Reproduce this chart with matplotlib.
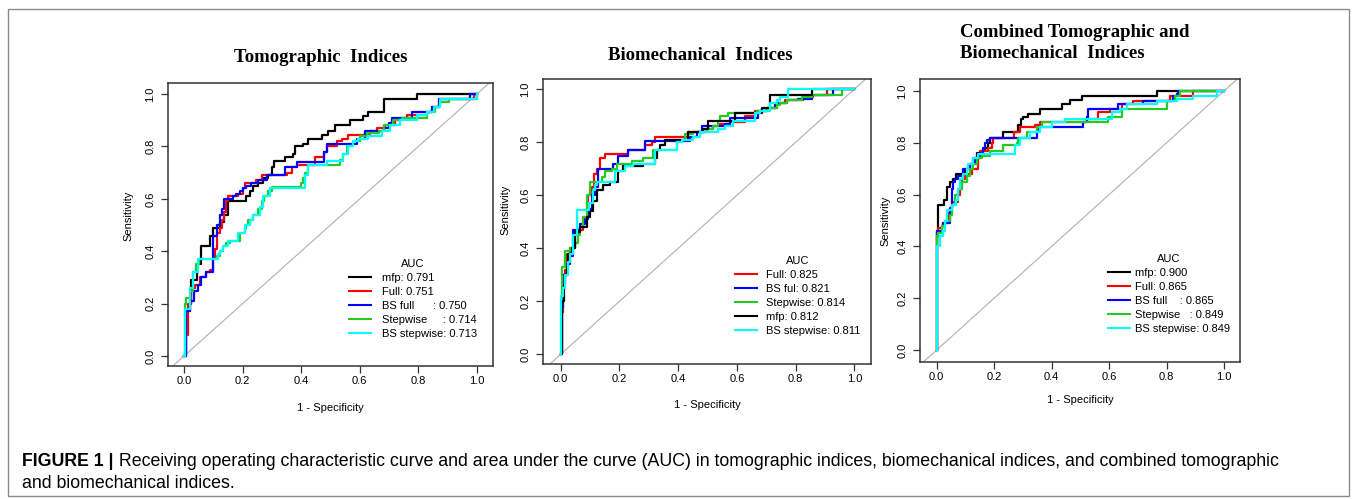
import matplotlib
matplotlib.use("Agg")
import matplotlib.pyplot as plt
from matplotlib.patches import Rectangle
from matplotlib.lines import Line2D

# ---------------- data ----------------
panel_titles = ["Tomographic  Indices", "Biomechanical  Indices",
                "Combined Tomographic and\nBiomechanical  Indices"]
x_label = "1 - Specificity"
y_label = "Sensitivity"
tick_values = [0.0, 0.2, 0.4, 0.6, 0.8, 1.0]
tick_labels = ["0.0", "0.2", "0.4", "0.6", "0.8", "1.0"]

# Panel 1: Tomographic indices
tomo_labels = ["mfp: 0.791", "Full: 0.751", "BS full      : 0.750",
               "Stepwise     : 0.714", "BS stepwise: 0.713"]
tomo_mfp_fpr = [0, 0.006, 0.019, 0.025, 0.044, 0.059, 0.088, 0.099, 0.122, 0.137, 0.151, 0.213, 0.225, 0.236,
                0.253, 0.270, 0.287, 0.299, 0.307, 0.344, 0.373, 0.379, 0.407, 0.424, 0.470, 0.493, 0.515, 0.567,
                0.612, 0.629, 0.681, 0.795, 1.0]
tomo_mfp_tpr = [0, 0.17, 0.20, 0.29, 0.35, 0.42, 0.46, 0.49, 0.51, 0.54, 0.59, 0.61, 0.63, 0.65,
                0.66, 0.68, 0.69, 0.72, 0.745, 0.76, 0.77, 0.80, 0.81, 0.83, 0.845, 0.86, 0.88, 0.90,
                0.915, 0.93, 0.98, 1.0, 1.0]
tomo_full_fpr = [0, 0.006, 0.014, 0.025, 0.036, 0.054, 0.074, 0.088, 0.099, 0.105, 0.114, 0.122, 0.128, 0.137,
                 0.143, 0.151, 0.185, 0.202, 0.208, 0.247, 0.265, 0.350, 0.367, 0.384, 0.447, 0.478, 0.487, 0.521,
                 0.538, 0.561, 0.635, 0.658, 0.686, 0.721, 0.738, 0.761, 0.829, 0.846, 0.869, 0.989, 1.0]
tomo_full_tpr = [0, 0.08, 0.20, 0.26, 0.27, 0.30, 0.32, 0.33, 0.37, 0.41, 0.47, 0.49, 0.52, 0.55,
                 0.59, 0.61, 0.62, 0.64, 0.66, 0.67, 0.69, 0.70, 0.72, 0.73, 0.76, 0.78, 0.80, 0.82,
                 0.83, 0.845, 0.86, 0.87, 0.88, 0.90, 0.91, 0.92, 0.93, 0.95, 0.98, 1.0, 1.0]
tomo_bsfull_fpr = [0, 0.006, 0.008, 0.019, 0.033, 0.048, 0.059, 0.076, 0.099, 0.114, 0.122, 0.128, 0.136, 0.168,
                   0.179, 0.190, 0.202, 0.213, 0.230, 0.253, 0.282, 0.344, 0.384, 0.478, 0.487, 0.590, 0.618,
                   0.681, 0.698, 0.709, 0.778, 0.846, 0.869, 0.977, 1.0]
tomo_bsfull_tpr = [0, 0.08, 0.17, 0.21, 0.25, 0.27, 0.30, 0.32, 0.46, 0.50, 0.54, 0.56, 0.60, 0.61,
                   0.62, 0.63, 0.64, 0.65, 0.66, 0.67, 0.69, 0.72, 0.74, 0.78, 0.81, 0.83, 0.86,
                   0.87, 0.89, 0.91, 0.93, 0.95, 0.98, 1.0, 1.0]
tomo_step_fpr = [0, 0.002, 0.008, 0.019, 0.031, 0.042, 0.051, 0.111, 0.122, 0.133, 0.145, 0.156, 0.190, 0.208,
                 0.213, 0.219, 0.236, 0.253, 0.265, 0.273, 0.287, 0.299, 0.401, 0.407, 0.413, 0.424, 0.532, 0.544,
                 0.555, 0.578, 0.601, 0.624, 0.664, 0.681, 0.715, 0.743, 0.829, 0.857, 0.875, 0.903, 1.0]
tomo_step_tpr = [0, 0.20, 0.22, 0.25, 0.32, 0.35, 0.37, 0.38, 0.40, 0.42, 0.43, 0.44, 0.47, 0.49,
                 0.50, 0.52, 0.54, 0.56, 0.59, 0.61, 0.63, 0.645, 0.66, 0.68, 0.70, 0.73, 0.75, 0.77,
                 0.80, 0.82, 0.84, 0.85, 0.86, 0.88, 0.90, 0.91, 0.93, 0.95, 0.97, 0.98, 1.0]
tomo_bsstep_fpr = [0, 0.002, 0.019, 0.031, 0.048, 0.116, 0.122, 0.133, 0.151, 0.185, 0.208, 0.225, 0.236, 0.259,
                   0.270, 0.293, 0.413, 0.424, 0.487, 0.544, 0.561, 0.578, 0.595, 0.629, 0.675, 0.704, 0.738,
                   0.795, 0.829, 0.852, 0.875, 1.0]
tomo_bsstep_tpr = [0, 0.18, 0.26, 0.32, 0.37, 0.39, 0.40, 0.42, 0.44, 0.47, 0.50, 0.52, 0.54, 0.57,
                   0.61, 0.64, 0.69, 0.73, 0.745, 0.77, 0.80, 0.82, 0.83, 0.84, 0.86, 0.88, 0.90,
                   0.92, 0.93, 0.95, 0.98, 1.0]

# Panel 2: Biomechanical indices
bio_labels = ["Full: 0.825", "BS ful: 0.821", "Stepwise: 0.814", "mfp: 0.812", "BS stepwise: 0.811"]
bio_full_fpr = [0, 0.003, 0.007, 0.015, 0.020, 0.032, 0.049, 0.060, 0.077, 0.094, 0.106, 0.115, 0.123, 0.134,
                0.151, 0.230, 0.287, 0.310, 0.321, 0.435, 0.497, 0.520, 0.543, 0.577, 0.628, 0.662, 0.701,
                0.736, 0.764, 0.826, 0.860, 0.906, 1.0]
bio_full_tpr = [0, 0.16, 0.30, 0.32, 0.38, 0.40, 0.45, 0.47, 0.52, 0.60, 0.63, 0.68, 0.70, 0.74,
                0.755, 0.77, 0.79, 0.80, 0.82, 0.84, 0.85, 0.86, 0.87, 0.878, 0.90, 0.92, 0.93,
                0.95, 0.96, 0.97, 0.98, 1.0, 1.0]
bio_bsful_fpr = [0, 0.003, 0.007, 0.020, 0.032, 0.043, 0.066, 0.083, 0.094, 0.106, 0.117, 0.128, 0.179, 0.196,
                 0.230, 0.287, 0.440, 0.463, 0.480, 0.560, 0.577, 0.673, 0.701, 0.730, 0.770, 0.809, 0.855,
                 0.928, 1.0]
bio_bsful_tpr = [0, 0.18, 0.30, 0.34, 0.37, 0.47, 0.49, 0.51, 0.55, 0.60, 0.63, 0.70, 0.72, 0.75,
                 0.77, 0.805, 0.82, 0.84, 0.86, 0.87, 0.89, 0.92, 0.93, 0.95, 0.96, 0.965, 0.98,
                 1.0, 1.0]
bio_step_fpr = [0, 0.003, 0.015, 0.032, 0.049, 0.060, 0.066, 0.077, 0.089, 0.100, 0.140, 0.151, 0.174, 0.191,
                0.242, 0.281, 0.316, 0.395, 0.423, 0.452, 0.497, 0.520, 0.537, 0.543, 0.571, 0.667, 0.701,
                0.736, 0.747, 0.770, 0.821, 0.855, 0.957, 1.0]
bio_step_tpr = [0, 0.33, 0.39, 0.40, 0.42, 0.45, 0.48, 0.52, 0.60, 0.65, 0.67, 0.69, 0.70, 0.72,
                0.73, 0.74, 0.77, 0.81, 0.83, 0.84, 0.85, 0.86, 0.88, 0.90, 0.91, 0.92, 0.93,
                0.94, 0.95, 0.96, 0.97, 0.98, 1.0, 1.0]
bio_mfp_fpr = [0, 0.003, 0.011, 0.015, 0.020, 0.026, 0.037, 0.049, 0.066, 0.089, 0.100, 0.111, 0.123, 0.145,
               0.168, 0.196, 0.213, 0.281, 0.321, 0.327, 0.338, 0.355, 0.435, 0.486, 0.503, 0.594, 0.684,
               0.713, 0.855, 1.0]
bio_mfp_tpr = [0, 0.20, 0.26, 0.30, 0.33, 0.38, 0.40, 0.46, 0.48, 0.52, 0.54, 0.58, 0.62, 0.64,
               0.65, 0.69, 0.71, 0.72, 0.74, 0.77, 0.79, 0.81, 0.84, 0.85, 0.88, 0.91, 0.93,
               0.98, 1.0, 1.0]
bio_bsstep_fpr = [0, 0.0, 0.009, 0.015, 0.026, 0.032, 0.043, 0.057, 0.098, 0.111, 0.117, 0.123, 0.185, 0.219,
                  0.247, 0.321, 0.395, 0.412, 0.452, 0.474, 0.537, 0.560, 0.588, 0.662, 0.679, 0.713, 0.736,
                  0.747, 0.775, 1.0]
bio_bsstep_tpr = [0, 0.22, 0.25, 0.30, 0.35, 0.38, 0.45, 0.545, 0.57, 0.62, 0.64, 0.65, 0.69, 0.71,
                  0.72, 0.77, 0.80, 0.81, 0.82, 0.84, 0.85, 0.86, 0.88, 0.91, 0.92, 0.95, 0.96,
                  0.97, 1.0, 1.0]

# Panel 3: Combined tomographic and biomechanical indices
comb_labels = ["mfp: 0.900", "Full: 0.865", "BS full    : 0.865", "Stepwise   : 0.849", "BS stepwise: 0.849"]
comb_mfp_fpr = [0, 0.0, 0.006, 0.026, 0.037, 0.046, 0.058, 0.067, 0.099, 0.116, 0.128, 0.139, 0.157, 0.168,
                0.180, 0.186, 0.232, 0.284, 0.292, 0.302, 0.319, 0.360, 0.435, 0.464, 0.505, 0.768, 1.0]
comb_mfp_tpr = [0, 0.45, 0.56, 0.58, 0.63, 0.65, 0.66, 0.68, 0.70, 0.72, 0.74, 0.76, 0.77, 0.78,
                0.80, 0.82, 0.84, 0.87, 0.89, 0.90, 0.91, 0.93, 0.95, 0.965, 0.98, 1.0, 1.0]
comb_full_fpr = [0, 0.0, 0.006, 0.017, 0.023, 0.035, 0.044, 0.052, 0.075, 0.081, 0.087, 0.099, 0.122, 0.145,
                 0.151, 0.180, 0.191, 0.197, 0.269, 0.290, 0.342, 0.360, 0.522, 0.563, 0.603, 0.644, 0.684,
                 0.812, 0.891, 1.0]
comb_full_tpr = [0, 0.46, 0.47, 0.48, 0.49, 0.50, 0.53, 0.57, 0.60, 0.62, 0.66, 0.68, 0.70, 0.74,
                 0.77, 0.78, 0.80, 0.82, 0.84, 0.86, 0.87, 0.88, 0.89, 0.92, 0.93, 0.95, 0.96,
                 0.98, 1.0, 1.0]
comb_bsfull_fpr = [0, 0.0, 0.017, 0.023, 0.046, 0.052, 0.058, 0.064, 0.075, 0.093, 0.116, 0.133, 0.151, 0.162,
                   0.168, 0.174, 0.186, 0.348, 0.354, 0.510, 0.522, 0.528, 0.632, 0.719, 0.821, 0.835, 0.841, 1.0]
comb_bsfull_tpr = [0, 0.46, 0.48, 0.49, 0.55, 0.62, 0.65, 0.66, 0.67, 0.70, 0.72, 0.74, 0.76, 0.78,
                   0.80, 0.81, 0.82, 0.84, 0.86, 0.88, 0.90, 0.93, 0.95, 0.96, 0.98, 0.99, 1.0, 1.0]
comb_step_fpr = [0, 0.0, 0.006, 0.017, 0.029, 0.046, 0.052, 0.064, 0.075, 0.087, 0.104, 0.116, 0.128, 0.139,
                 0.157, 0.186, 0.232, 0.278, 0.284, 0.313, 0.348, 0.365, 0.597, 0.644, 0.800, 0.829, 0.847, 1.0]
comb_step_tpr = [0, 0.44, 0.45, 0.48, 0.50, 0.52, 0.56, 0.60, 0.62, 0.65, 0.67, 0.70, 0.72, 0.74,
                 0.75, 0.77, 0.79, 0.80, 0.82, 0.84, 0.86, 0.88, 0.90, 0.93, 0.96, 0.98, 1.0, 1.0]
comb_bsstep_fpr = [0, 0.0, 0.002, 0.012, 0.023, 0.029, 0.035, 0.052, 0.067, 0.075, 0.081, 0.093, 0.104, 0.110,
                   0.128, 0.145, 0.273, 0.290, 0.325, 0.360, 0.400, 0.447, 0.609, 0.638, 0.661, 0.766, 0.835,
                   0.893, 0.974, 1.0]
comb_bsstep_tpr = [0, 0.35, 0.40, 0.44, 0.46, 0.50, 0.54, 0.56, 0.58, 0.62, 0.66, 0.68, 0.70, 0.72,
                   0.74, 0.755, 0.79, 0.82, 0.84, 0.86, 0.88, 0.89, 0.92, 0.93, 0.95, 0.96, 0.97,
                   0.98, 1.0, 1.0]

caption_bold = "FIGURE 1 |"
caption_line1 = (" Receiving operating characteristic curve and area under the curve (AUC) in tomographic "
                 "indices, biomechanical indices, and combined tomographic")
caption_line2 = "and biomechanical indices."

# ---------------- styling ----------------
C_BLACK, C_RED, C_BLUE, C_GREEN, C_CYAN = "#000000", "#ff0000", "#0000ff", "#22cc22", "#00ffff"

panels = [
    dict(curves=[(tomo_mfp_fpr, tomo_mfp_tpr, C_BLACK), (tomo_full_fpr, tomo_full_tpr, C_RED),
                 (tomo_bsfull_fpr, tomo_bsfull_tpr, C_BLUE), (tomo_step_fpr, tomo_step_tpr, C_GREEN),
                 (tomo_bsstep_fpr, tomo_bsstep_tpr, C_CYAN)],
         labels=tomo_labels, frame=(168, 83, 493, 366), xlim=(-0.0546, 1.0546), ylim=(-0.038, 1.042),
         leg=(349, 259), htp=1.0, xl_y=-0.129, yl=(-0.105, 0.53)),
    dict(curves=[(bio_full_fpr, bio_full_tpr, C_RED), (bio_bsful_fpr, bio_bsful_tpr, C_BLUE),
                 (bio_step_fpr, bio_step_tpr, C_GREEN), (bio_mfp_fpr, bio_mfp_tpr, C_BLACK),
                 (bio_bsstep_fpr, bio_bsstep_tpr, C_CYAN)],
         labels=bio_labels, frame=(543, 79, 871, 364), xlim=(-0.0603, 1.0569), ylim=(-0.0366, 1.0389),
         leg=(735, 256), htp=0.8, xl_y=-0.128, yl=(-0.099, 0.54)),
    dict(curves=[(comb_mfp_fpr, comb_mfp_tpr, C_BLACK), (comb_full_fpr, comb_full_tpr, C_RED),
                 (comb_bsfull_fpr, comb_bsfull_tpr, C_BLUE), (comb_step_fpr, comb_step_tpr, C_GREEN),
                 (comb_bsstep_fpr, comb_bsstep_tpr, C_CYAN)],
         labels=comb_labels, frame=(920, 79, 1240, 362), xlim=(-0.0581, 1.0557), ylim=(-0.0463, 1.0463),
         leg=(1108, 254), htp=0.45, xl_y=-0.118, yl=(-0.092, 0.50)),
]

W, H = 1357, 499
plt.rcParams['font.family'] = ['Liberation Sans', 'DejaVu Sans']
fig = plt.figure(figsize=(W / 100, H / 100), dpi=100)
fig.patch.set_facecolor("white")

def px(x, y):
    return x / W, 1 - y / H

for p in panels:
    l, t, r, b = p["frame"]
    ax = fig.add_axes([l / W, 1 - b / H, (r - l) / W, (b - t) / H])
    ax.axline((0, 0), (1, 1), color="#b0b0b0", lw=0.8, zorder=1)
    handles = []
    for (fx, fy, col), lab in zip(p["curves"], p["labels"]):
        ax.plot(fx, fy, drawstyle="steps-post", color=col, lw=1.6, zorder=2)
        handles.append(Line2D([], [], color=col, lw=1.5, label=lab))
    ax.set_xlim(*p["xlim"])
    ax.set_ylim(*p["ylim"])
    ax.set_xticks(tick_values)
    ax.set_xticklabels(tick_labels, fontsize=8)
    ax.set_yticks(tick_values)
    ax.set_yticklabels(tick_labels, fontsize=8, rotation=90, va="center")
    ax.tick_params(axis="both", direction="out", length=5, width=0.9, color="#333333")
    ax.tick_params(axis="x", pad=2.5)
    ax.tick_params(axis="y", pad=4)
    for s in ax.spines.values():
        s.set_linewidth(1.1)
        s.set_color("#333333")
    ax.set_xlabel(x_label, fontsize=8)
    ax.set_ylabel(y_label, fontsize=8)
    ax.xaxis.set_label_coords(0.5, p["xl_y"])
    ax.yaxis.set_label_coords(*p["yl"])
    lx, ly = p["leg"]
    ax.legend(handles=handles, title="AUC", frameon=False, loc="upper left",
              bbox_to_anchor=((lx - l) / (r - l), (b - ly) / (b - t)), borderpad=0, borderaxespad=0,
              fontsize=8, title_fontsize=8, handlelength=2.0, handletextpad=p["htp"], labelspacing=0.36)

# panel titles
title_font = dict(family="Liberation Serif", fontweight="bold", fontsize=13.5)
fig.text(*px(321, 57), panel_titles[0], ha="center", va="center", **title_font)
fig.text(*px(700, 55), panel_titles[1], ha="center", va="center", **title_font)
fig.text(*px(960, 43), panel_titles[2], ha="left", va="center", linespacing=1.3, **title_font)

# outer frame
fig.patches.append(Rectangle((8 / W, 1 - 496 / H), (1349 - 8) / W, (496 - 9) / H,
                             transform=fig.transFigure, fill=False, edgecolor="#8a8a8a", lw=1.0))

# caption
cap_size = 12.8
tb = fig.text(*px(22, 461), caption_bold, ha="left", va="center", fontsize=cap_size, fontweight="bold")
fig.canvas.draw()
bb = tb.get_window_extent(renderer=fig.canvas.get_renderer())
fig.text(bb.x1 / W, 1 - 461 / H, caption_line1, ha="left", va="center", fontsize=cap_size)
fig.text(*px(22, 483), caption_line2, ha="left", va="center", fontsize=cap_size)

fig.savefig("out.png", dpi=100)
